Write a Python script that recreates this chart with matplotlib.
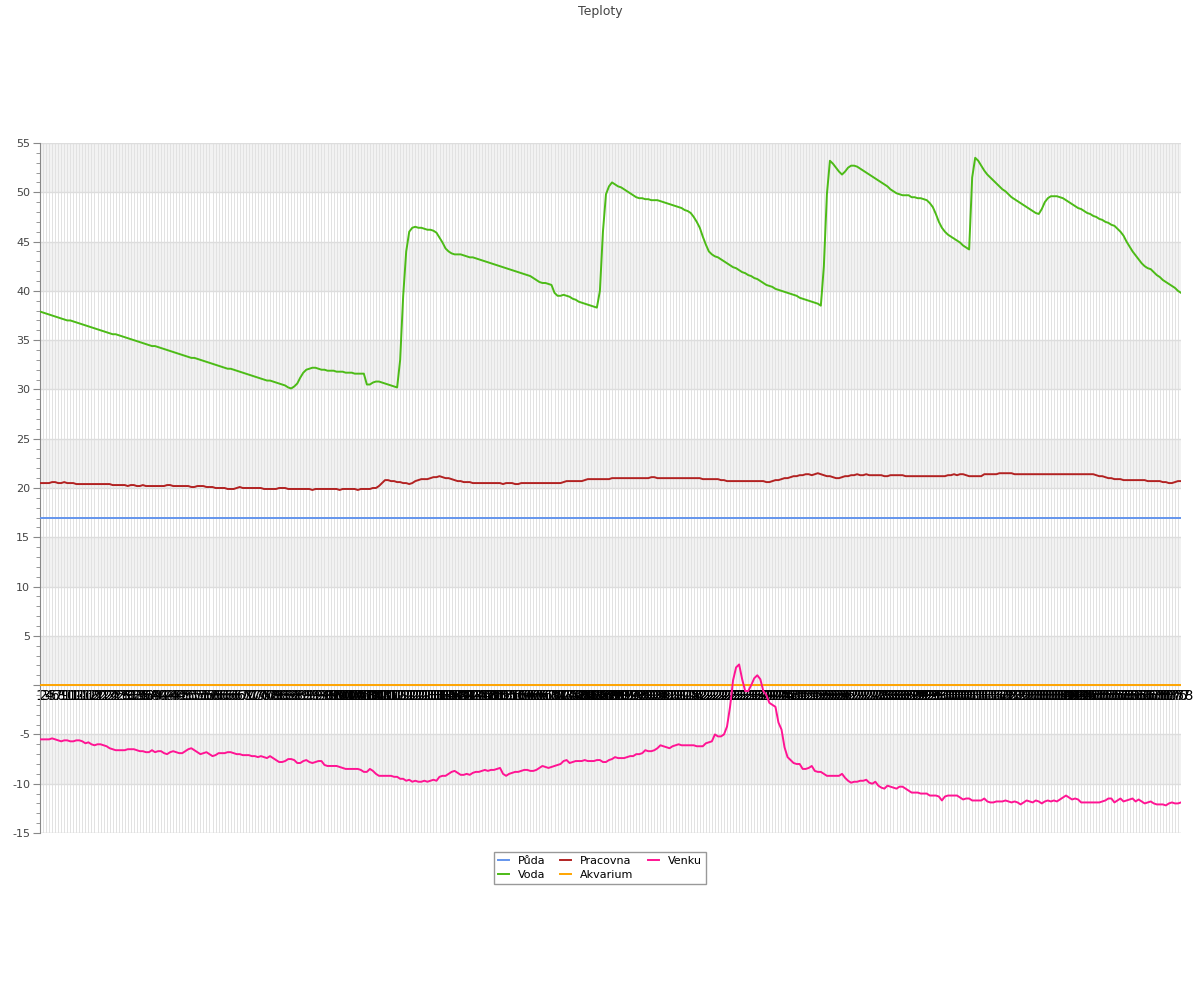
import matplotlib
matplotlib.use("Agg")
import matplotlib.pyplot as plt
from matplotlib.ticker import MultipleLocator, FuncFormatter

title = "Teploty"
series_names = ["Půda", "Voda", "Pracovna", "Akvarium", "Venku"]
series_colors = ["#6495ED", "#4CBB17", "#B22222", "#FFA500", "#FF1493"]

n_points = 378
labels = [str(i) for i in range(1, n_points + 1)]

puda = [17.0] * n_points
akvarium = [0.0] * n_points

voda = [
    37.9, 37.8, 37.7, 37.6, 37.5, 37.4, 37.3, 37.2, 37.1, 37.0,
    37.0, 36.9, 36.8, 36.7, 36.6, 36.5, 36.4, 36.3, 36.2, 36.1,
    36.0, 35.9, 35.8, 35.7, 35.6, 35.6, 35.5, 35.4, 35.3, 35.2,
    35.1, 35.0, 34.9, 34.8, 34.7, 34.6, 34.5, 34.4, 34.4, 34.3,
    34.2, 34.1, 34.0, 33.9, 33.8, 33.7, 33.6, 33.5, 33.4, 33.3,
    33.2, 33.2, 33.1, 33.0, 32.9, 32.8, 32.7, 32.6, 32.5, 32.4,
    32.3, 32.2, 32.1, 32.1, 32.0, 31.9, 31.8, 31.7, 31.6, 31.5,
    31.4, 31.3, 31.2, 31.1, 31.0, 30.9, 30.9, 30.8, 30.7, 30.6,
    30.5, 30.4, 30.2, 30.1, 30.3, 30.6, 31.2, 31.7, 32.0, 32.1,
    32.2, 32.2, 32.1, 32.0, 32.0, 31.9, 31.9, 31.9, 31.8, 31.8,
    31.8, 31.7, 31.7, 31.7, 31.6, 31.6, 31.6, 31.6, 30.5, 30.5,
    30.7, 30.8, 30.8, 30.7, 30.6, 30.5, 30.4, 30.3, 30.2, 33.0,
    39.5, 44.0, 46.0, 46.4, 46.5, 46.4, 46.4, 46.3, 46.2, 46.2,
    46.1, 45.9, 45.4, 44.9, 44.3, 44.0, 43.8, 43.7, 43.7, 43.7,
    43.6, 43.5, 43.4, 43.4, 43.3, 43.2, 43.1, 43.0, 42.9, 42.8,
    42.7, 42.6, 42.5, 42.4, 42.3, 42.2, 42.1, 42.0, 41.9, 41.8,
    41.7, 41.6, 41.5, 41.3, 41.1, 40.9, 40.8, 40.8, 40.7, 40.6,
    39.8, 39.5, 39.5, 39.6, 39.5, 39.4, 39.2, 39.1, 38.9, 38.8,
    38.7, 38.6, 38.5, 38.4, 38.3, 40.0, 46.0, 49.8, 50.6, 51.0,
    50.8, 50.6, 50.5, 50.3, 50.1, 49.9, 49.7, 49.5, 49.4, 49.4,
    49.3, 49.3, 49.2, 49.2, 49.2, 49.1, 49.0, 48.9, 48.8, 48.7,
    48.6, 48.5, 48.4, 48.2, 48.1, 47.9, 47.5, 47.0, 46.4, 45.5,
    44.7, 44.0, 43.7, 43.5, 43.4, 43.2, 43.0, 42.8, 42.6, 42.4,
    42.3, 42.1, 41.9, 41.8, 41.6, 41.5, 41.3, 41.2, 41.0, 40.8,
    40.6, 40.5, 40.4, 40.2, 40.1, 40.0, 39.9, 39.8, 39.7, 39.6,
    39.5, 39.3, 39.2, 39.1, 39.0, 38.9, 38.8, 38.7, 38.5, 42.5,
    49.8, 53.2, 52.9, 52.5, 52.1, 51.8, 52.1, 52.5, 52.7, 52.7,
    52.6, 52.4, 52.2, 52.0, 51.8, 51.6, 51.4, 51.2, 51.0, 50.8,
    50.6, 50.3, 50.1, 49.9, 49.8, 49.7, 49.7, 49.7, 49.5, 49.5,
    49.4, 49.4, 49.3, 49.2, 48.9, 48.5, 47.8, 47.0, 46.4, 46.0,
    45.7, 45.5, 45.3, 45.1, 44.9, 44.6, 44.4, 44.2, 51.5, 53.5,
    53.2, 52.7, 52.2, 51.8, 51.5, 51.2, 50.9, 50.6, 50.3, 50.1,
    49.8, 49.5, 49.3, 49.1, 48.9, 48.7, 48.5, 48.3, 48.1, 47.9,
    47.8, 48.3, 49.0, 49.4, 49.6, 49.6, 49.6, 49.5, 49.4, 49.2,
    49.0, 48.8, 48.6, 48.4, 48.3, 48.1, 47.9, 47.8, 47.6, 47.5,
    47.3, 47.2, 47.0, 46.9, 46.7, 46.6, 46.3, 46.0, 45.6, 45.0,
    44.5, 44.0, 43.6, 43.2, 42.8, 42.5, 42.3, 42.2, 41.9, 41.6,
    41.4, 41.1, 40.9, 40.7, 40.5, 40.3, 40.0, 39.8,
]

pracovna = [
    20.5, 20.5, 20.5, 20.5, 20.6, 20.6, 20.5, 20.5, 20.6, 20.5,
    20.5, 20.5, 20.4, 20.4, 20.4, 20.4, 20.4, 20.4, 20.4, 20.4,
    20.4, 20.4, 20.4, 20.4, 20.3, 20.3, 20.3, 20.3, 20.3, 20.2,
    20.3, 20.3, 20.2, 20.2, 20.3, 20.2, 20.2, 20.2, 20.2, 20.2,
    20.2, 20.2, 20.3, 20.3, 20.2, 20.2, 20.2, 20.2, 20.2, 20.2,
    20.1, 20.1, 20.2, 20.2, 20.2, 20.1, 20.1, 20.1, 20.0, 20.0,
    20.0, 20.0, 19.9, 19.9, 19.9, 20.0, 20.1, 20.0, 20.0, 20.0,
    20.0, 20.0, 20.0, 20.0, 19.9, 19.9, 19.9, 19.9, 19.9, 20.0,
    20.0, 20.0, 19.9, 19.9, 19.9, 19.9, 19.9, 19.9, 19.9, 19.9,
    19.8, 19.9, 19.9, 19.9, 19.9, 19.9, 19.9, 19.9, 19.9, 19.8,
    19.9, 19.9, 19.9, 19.9, 19.9, 19.8, 19.9, 19.9, 19.9, 19.9,
    20.0, 20.0, 20.2, 20.5, 20.8, 20.8, 20.7, 20.7, 20.6, 20.6,
    20.5, 20.5, 20.4, 20.5, 20.7, 20.8, 20.9, 20.9, 20.9, 21.0,
    21.1, 21.1, 21.2, 21.1, 21.0, 21.0, 20.9, 20.8, 20.7, 20.7,
    20.6, 20.6, 20.6, 20.5, 20.5, 20.5, 20.5, 20.5, 20.5, 20.5,
    20.5, 20.5, 20.5, 20.4, 20.5, 20.5, 20.5, 20.4, 20.4, 20.5,
    20.5, 20.5, 20.5, 20.5, 20.5, 20.5, 20.5, 20.5, 20.5, 20.5,
    20.5, 20.5, 20.5, 20.6, 20.7, 20.7, 20.7, 20.7, 20.7, 20.7,
    20.8, 20.9, 20.9, 20.9, 20.9, 20.9, 20.9, 20.9, 20.9, 21.0,
    21.0, 21.0, 21.0, 21.0, 21.0, 21.0, 21.0, 21.0, 21.0, 21.0,
    21.0, 21.0, 21.1, 21.1, 21.0, 21.0, 21.0, 21.0, 21.0, 21.0,
    21.0, 21.0, 21.0, 21.0, 21.0, 21.0, 21.0, 21.0, 21.0, 20.9,
    20.9, 20.9, 20.9, 20.9, 20.9, 20.8, 20.8, 20.7, 20.7, 20.7,
    20.7, 20.7, 20.7, 20.7, 20.7, 20.7, 20.7, 20.7, 20.7, 20.7,
    20.6, 20.6, 20.7, 20.8, 20.8, 20.9, 21.0, 21.0, 21.1, 21.2,
    21.2, 21.3, 21.3, 21.4, 21.4, 21.3, 21.4, 21.5, 21.4, 21.3,
    21.2, 21.2, 21.1, 21.0, 21.0, 21.1, 21.2, 21.2, 21.3, 21.3,
    21.4, 21.3, 21.3, 21.4, 21.3, 21.3, 21.3, 21.3, 21.3, 21.2,
    21.2, 21.3, 21.3, 21.3, 21.3, 21.3, 21.2, 21.2, 21.2, 21.2,
    21.2, 21.2, 21.2, 21.2, 21.2, 21.2, 21.2, 21.2, 21.2, 21.2,
    21.3, 21.3, 21.4, 21.3, 21.4, 21.4, 21.3, 21.2, 21.2, 21.2,
    21.2, 21.2, 21.4, 21.4, 21.4, 21.4, 21.4, 21.5, 21.5, 21.5,
    21.5, 21.5, 21.4, 21.4, 21.4, 21.4, 21.4, 21.4, 21.4, 21.4,
    21.4, 21.4, 21.4, 21.4, 21.4, 21.4, 21.4, 21.4, 21.4, 21.4,
    21.4, 21.4, 21.4, 21.4, 21.4, 21.4, 21.4, 21.4, 21.4, 21.3,
    21.2, 21.2, 21.1, 21.0, 21.0, 20.9, 20.9, 20.9, 20.8, 20.8,
    20.8, 20.8, 20.8, 20.8, 20.8, 20.8, 20.7, 20.7, 20.7, 20.7,
    20.7, 20.6, 20.6, 20.5, 20.5, 20.6, 20.7, 20.7,
]

venku = [
    -5.5, -5.5, -5.5, -5.5, -5.4, -5.5, -5.6, -5.7, -5.6, -5.6,
    -5.7, -5.7, -5.6, -5.6, -5.7, -5.9, -5.8, -6.0, -6.1, -6.0,
    -6.0, -6.1, -6.2, -6.4, -6.5, -6.6, -6.6, -6.6, -6.6, -6.5,
    -6.5, -6.5, -6.6, -6.7, -6.7, -6.8, -6.8, -6.6, -6.8, -6.7,
    -6.7, -6.9, -7.0, -6.8, -6.7, -6.8, -6.9, -6.9, -6.7, -6.5,
    -6.4, -6.6, -6.8, -7.0, -6.9, -6.8, -7.0, -7.2, -7.1, -6.9,
    -6.9, -6.9, -6.8, -6.8, -6.9, -7.0, -7.0, -7.1, -7.1, -7.1,
    -7.2, -7.2, -7.3, -7.2, -7.3, -7.4, -7.2, -7.4, -7.6, -7.8,
    -7.8, -7.7, -7.5, -7.5, -7.6, -7.9, -7.9, -7.7, -7.6, -7.8,
    -7.9, -7.8, -7.7, -7.7, -8.1, -8.2, -8.2, -8.2, -8.2, -8.3,
    -8.4, -8.5, -8.5, -8.5, -8.5, -8.5, -8.6, -8.8, -8.8, -8.5,
    -8.7, -9.0, -9.2, -9.2, -9.2, -9.2, -9.2, -9.3, -9.3, -9.5,
    -9.5, -9.7, -9.6, -9.8, -9.7, -9.8, -9.8, -9.7, -9.8, -9.7,
    -9.6, -9.7, -9.3, -9.2, -9.2, -9.0, -8.8, -8.7, -8.9, -9.1,
    -9.1, -9.0, -9.1, -8.9, -8.8, -8.8, -8.7, -8.6, -8.7, -8.6,
    -8.6, -8.5, -8.4, -9.0, -9.2, -9.0, -8.9, -8.8, -8.8, -8.7,
    -8.6, -8.6, -8.7, -8.7, -8.6, -8.4, -8.2, -8.3, -8.4, -8.3,
    -8.2, -8.1, -8.0, -7.7, -7.6, -7.9, -7.8, -7.7, -7.7, -7.7,
    -7.6, -7.7, -7.7, -7.7, -7.6, -7.6, -7.8, -7.8, -7.6, -7.5,
    -7.3, -7.4, -7.4, -7.4, -7.3, -7.2, -7.2, -7.0, -7.0, -6.9,
    -6.6, -6.7, -6.7, -6.6, -6.4, -6.1, -6.2, -6.3, -6.4, -6.2,
    -6.1, -6.0, -6.1, -6.1, -6.1, -6.1, -6.1, -6.2, -6.2, -6.2,
    -5.9, -5.8, -5.7, -5.0, -5.2, -5.2, -5.0, -4.2, -2.2, 0.5,
    1.8, 2.1, 0.6, -0.6, -0.6, 0.0, 0.7, 1.0, 0.6, -0.6,
    -1.0, -1.8, -2.0, -2.2, -3.8, -4.5, -6.3, -7.3, -7.6, -7.9,
    -8.0, -8.0, -8.5, -8.5, -8.4, -8.2, -8.7, -8.8, -8.8, -9.0,
    -9.2, -9.2, -9.2, -9.2, -9.2, -9.0, -9.4, -9.7, -9.9, -9.8,
    -9.8, -9.7, -9.7, -9.6, -9.9, -10.0, -9.8, -10.2, -10.4, -10.5,
    -10.2, -10.3, -10.4, -10.5, -10.3, -10.3, -10.5, -10.7, -10.9, -10.9,
    -10.9, -11.0, -11.0, -11.0, -11.2, -11.2, -11.2, -11.3, -11.7, -11.3,
    -11.2, -11.2, -11.2, -11.2, -11.4, -11.6, -11.5, -11.5, -11.7, -11.7,
    -11.7, -11.7, -11.5, -11.8, -11.9, -11.9, -11.8, -11.8, -11.8, -11.7,
    -11.8, -11.9, -11.8, -11.9, -12.1, -11.9, -11.7, -11.8, -11.9, -11.7,
    -11.8, -12.0, -11.8, -11.7, -11.8, -11.7, -11.8, -11.6, -11.4, -11.2,
    -11.4, -11.6, -11.5, -11.6, -11.9, -11.9, -11.9, -11.9, -11.9, -11.9,
    -11.9, -11.8, -11.7, -11.5, -11.5, -11.9, -11.7, -11.5, -11.8, -11.7,
    -11.6, -11.5, -11.8, -11.6, -11.8, -12.0, -11.9, -11.8, -12.0, -12.1,
    -12.1, -12.1, -12.2, -12.0, -11.9, -12.0, -12.0, -11.9,
]

y_min, y_max, y_step = -15, 55, 5

fig = plt.figure(figsize=(12, 10), dpi=100)
ax = fig.add_axes([40 / 1200, 1 - 833 / 1000, 1141 / 1200, 690 / 1000])

# alternating bands
for lo in range(y_min, y_max, y_step):
    if ((lo - y_min) // y_step) % 2 == 1:
        ax.axhspan(lo, lo + y_step, color="#f2f2f2", zorder=0, lw=0)

x = list(range(n_points))
series = [puda, voda, pracovna, akvarium, venku]
for name, vals, col in zip(series_names, series, series_colors):
    ax.plot(x, vals, color=col, lw=1.4, label=name, zorder=3)

ax.set_xlim(0, n_points - 1)
ax.set_ylim(y_min, y_max)

# grid
ax.set_xticks(x)
ax.set_xticklabels(labels, fontsize=8, color="#444444")
ax.yaxis.set_major_locator(MultipleLocator(5))
ax.yaxis.set_minor_locator(MultipleLocator(1))
ax.yaxis.set_major_formatter(FuncFormatter(lambda v, p: "" if abs(v) < 1e-9 else "%d" % v))
ax.grid(True, which="major", axis="x", color="#e2e2e2", lw=0.7, zorder=1)
ax.grid(True, which="major", axis="y", color="#dddddd", lw=1.0, zorder=1)
ax.set_axisbelow(True)

ax.spines["bottom"].set_position(("data", 0))
ax.spines["bottom"].set_visible(False)
ax.spines["top"].set_visible(False)
ax.spines["right"].set_visible(False)
ax.spines["left"].set_color("#888888")
ax.tick_params(axis="x", length=0, pad=3)
ax.tick_params(axis="y", which="major", length=5, color="#888888", labelsize=8, labelcolor="#444444", pad=2)
ax.tick_params(axis="y", which="minor", length=3, color="#888888")
ax.axhline(y_min, color="#dddddd", lw=1, zorder=1)

fig.text(0.5, 1 - 11 / 1000, title, ha="center", va="center", fontsize=9, color="#444444")

leg = fig.legend(loc="center", bbox_to_anchor=(600 / 1200, 1 - 868 / 1000), ncol=3,
                 fontsize=8, frameon=True, fancybox=False, edgecolor="#808080",
                 handlelength=1.0, handletextpad=0.8, columnspacing=1.3,
                 borderpad=0.4, labelspacing=0.3)
leg.get_frame().set_linewidth(1.0)

fig.savefig("out.png", dpi=100)
